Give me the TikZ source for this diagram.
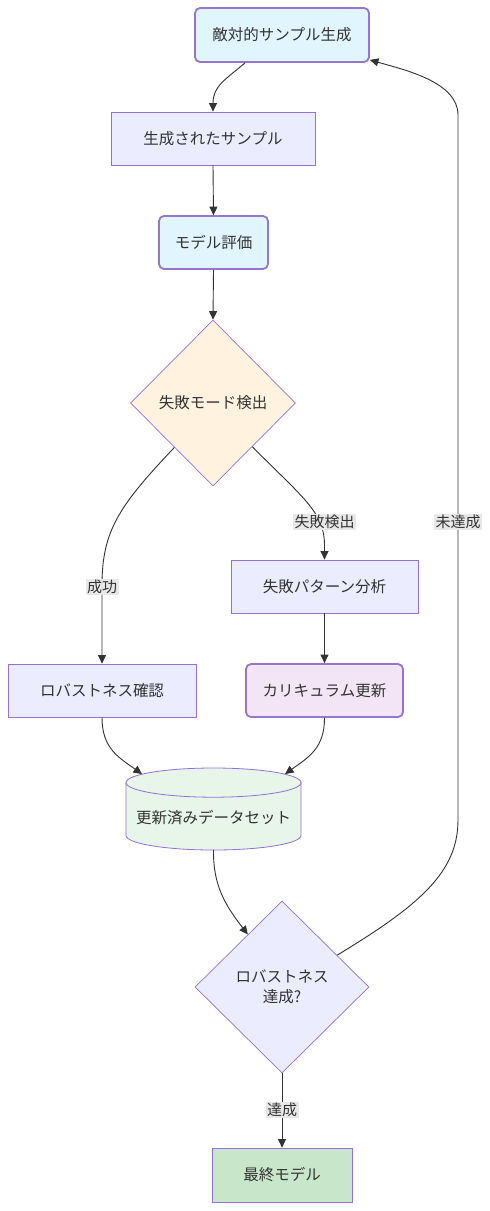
\documentclass[tikz,border=0pt]{standalone}
\usepackage{fontspec}
\setmainfont{Noto Sans CJK JP}
\usetikzlibrary{shapes.geometric,arrows.meta,calc}
\definecolor{ink}{HTML}{333333}
\definecolor{defFill}{HTML}{ECECFF}
\definecolor{defLine}{HTML}{9370DB}
\definecolor{blueFill}{HTML}{E1F5FE}
\definecolor{accLine}{HTML}{9575CD}
\definecolor{orangeFill}{HTML}{FFF3E0}
\definecolor{purpleFill}{HTML}{F3E5F5}
\definecolor{greenFill}{HTML}{E8F5E9}
\definecolor{finalFill}{HTML}{C8E6C9}
\definecolor{lblFill}{HTML}{E8E8E8}
\begin{document}
\begin{tikzpicture}[x=1pt,y=-1pt,
  every node/.style={text=ink, font=\fontsize{15.5pt}{20pt}\selectfont},
  box/.style={draw=defLine, fill=defFill, line width=0.8pt, minimum height=53pt, inner sep=0pt},
  accbox/.style={box, draw=accLine, line width=1.8pt, rounded corners=5pt},
  decision/.style={diamond, draw=defLine, fill=defFill, line width=0.7pt, inner sep=0pt, align=center},
  arr/.style={draw=ink, line width=0.9pt, -{Triangle[length=8.5pt,width=8pt]}},
  lbl/.style={fill=lblFill, inner sep=1.5pt, font=\fontsize{15pt}{18pt}\selectfont}
]
\fill[white] (0,0) rectangle (490,1211);
\useasboundingbox (0,0) rectangle (490,1211);

% nodes
\node[accbox, fill=blueFill, minimum width=174pt, minimum height=54pt] (A) at (282,35) {敵対的サンプル生成};
\node[box, minimum width=204pt] (B) at (213,138.5) {生成されたサンプル};
\node[accbox, fill=blueFill, minimum width=109pt] (C) at (213.5,242.5) {モデル評価};
\node[decision, fill=orangeFill, minimum width=165pt, minimum height=166pt] (D) at (213,403) {失敗モード検出};
\node[box, minimum width=187pt] (E) at (324.5,586.5) {失敗パターン分析};
\node[box, minimum width=188pt] (F) at (102,690.5) {ロバストネス確認};
\node[accbox, fill=purpleFill, minimum width=157pt] (G) at (324.5,690.5) {カリキュラム更新};

% cylinder
\fill[greenFill] (126,782.6) -- (126,835.4) arc[start angle=180,end angle=360,x radius=87.5pt,y radius=14.6pt] -- (301,782.6) arc[start angle=0,end angle=180,x radius=87.5pt,y radius=14.6pt] -- cycle;
\draw[defLine, line width=0.8pt] (126,782.6) -- (126,835.4) arc[start angle=180,end angle=360,x radius=87.5pt,y radius=14.6pt] -- (301,782.6) arc[start angle=0,end angle=180,x radius=87.5pt,y radius=14.6pt];
\draw[defLine, line width=0.8pt] (126,782.6) arc[start angle=180,end angle=360,x radius=87.5pt,y radius=14.6pt];
\node[inner sep=0pt] (H) at (213.5,818) {更新済みデータセット};

\node[decision, minimum width=174pt, minimum height=172pt] (I) at (282,987) {ロバストネス\\達成?};
\node[box, fill=finalFill, minimum width=140pt, minimum height=54pt] (J) at (282,1175) {最終モデル};

% edges
\draw[arr] ($(A.south)+(-37,0)$) .. controls (225,80) and (213,86) .. (B.north);
\draw[arr] (B.south) -- (C.north);
\draw[arr] (C.south) -- (D.north);
\draw[arr] (D.229) .. controls (120,505) and (102,530) .. (102,585) -- (F.north);
\draw[arr] (D.312) .. controls (302,497) and (324.5,512) .. (324.5,545) -- (E.north);
\draw[arr] (E.south) -- (G.north);
\draw[arr] (F.south) .. controls (102,748) and (118,757) .. ($(H)+(-71.5,-44)$);
\draw[arr] (G.south) .. controls (324.5,748) and (309,757) .. ($(H)+(71.5,-44)$);
\draw[arr] ($(H)+(0,32)$) .. controls (213,885) and (225,905) .. (I.123);
\draw[arr] (I.30) .. controls (420,905) and (458,872) .. (458,820) -- (458,115) .. controls (458,82) and (405,70) .. ($(A.south east)+(0,-3)$);
\draw[arr] (I.south) -- (J.north);

% labels
\node[lbl] (l1) at (102,587) {成功};
\node[lbl] (l2) at (324.5,522) {失敗検出};
\node[lbl] (l3) at (458,522) {未達成};
\node[lbl] (l4) at (282,1110) {達成};
\end{tikzpicture}
\end{document}
